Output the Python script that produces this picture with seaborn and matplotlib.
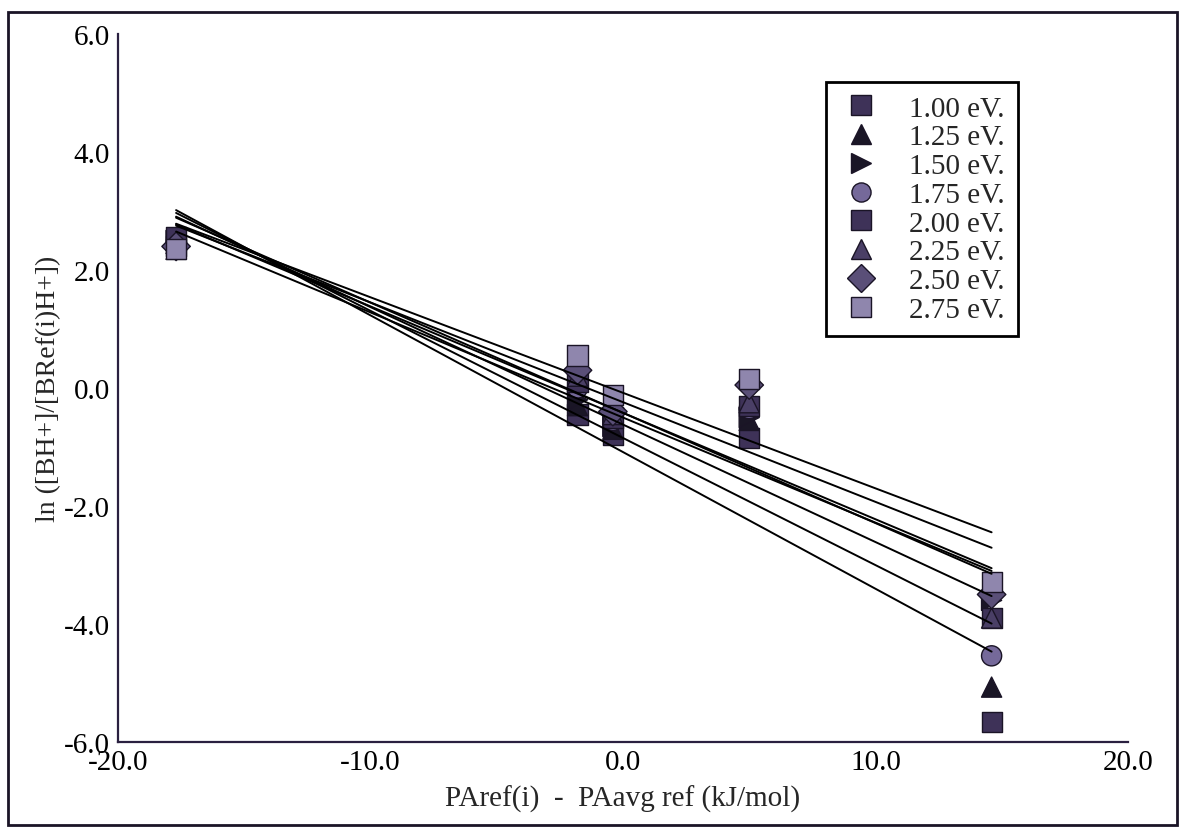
import numpy as np
import pandas as pd
import seaborn as sns
import matplotlib.pyplot as plt
from matplotlib.patches import Rectangle
from matplotlib.ticker import MultipleLocator, FormatStrFormatter

# proton affinity difference of the reference bases (kJ/mol)
pa_diff = [-17.7, -1.8, -0.4, 5.0, 14.6]

energies = ['1.00 eV.', '1.25 eV.', '1.50 eV.', '1.75 eV.',
            '2.00 eV.', '2.25 eV.', '2.50 eV.', '2.75 eV.']

# ln ratio for each collision energy, one value per reference base
ln_100 = [2.40, -0.45, -0.80, -0.85, -5.66]
ln_125 = [2.45, -0.30, -0.70, -0.55, -5.07]
ln_150 = [2.50, -0.20, -0.65, -0.50, -3.60]
ln_175 = [2.40, 0.00, -0.55, -0.35, -4.54]
ln_200 = [2.55, 0.10, -0.50, -0.30, -3.90]
ln_225 = [2.35, 0.20, -0.45, -0.25, -3.90]
ln_250 = [2.40, 0.30, -0.40, 0.05, -3.50]
ln_275 = [2.35, 0.55, -0.12, 0.15, -3.29]

series = [ln_100, ln_125, ln_150, ln_175, ln_200, ln_225, ln_250, ln_275]

df = pd.DataFrame({
    'x': pa_diff * len(energies),
    'y': np.concatenate(series),
    'energy': np.repeat(energies, len(pa_diff)),
})

markers = dict(zip(energies, ['s', '^', '>', 'o', 's', '^', 'D', 's']))
palette = dict(zip(energies, ['#3e3258', '#1a1626', '#1a1626', '#75699a',
                              '#3e3258', '#4a3f66', '#5a4f78', '#8f86ad']))

sns.set_style('white')
plt.rcParams['font.family'] = ['Liberation Serif', 'DejaVu Serif']
plt.rcParams['axes.unicode_minus'] = False

fig = plt.figure(figsize=(11.79, 8.28), dpi=100)
ax = fig.add_axes([0.1001, 0.1027, 0.8566, 0.855])

sns.scatterplot(data=df, x='x', y='y', hue='energy', style='energy',
                markers=markers, palette=palette, s=210,
                edgecolor='#1a1426', linewidth=1, ax=ax)

# least-squares line for each energy
for e in energies:
    sns.regplot(data=df[df['energy'] == e], x='x', y='y', scatter=False,
                ci=None, color='black', line_kws={'lw': 1.4}, ax=ax)

ax.set_xlim(-20, 20)
ax.set_ylim(-6, 6)
ax.xaxis.set_major_locator(MultipleLocator(10))
ax.xaxis.set_minor_locator(MultipleLocator(5))
ax.yaxis.set_major_locator(MultipleLocator(2))
ax.yaxis.set_minor_locator(MultipleLocator(1))
ax.xaxis.set_major_formatter(FormatStrFormatter('%.1f'))
ax.yaxis.set_major_formatter(FormatStrFormatter('%.1f'))

spine_col = '#2a2040'
for side in ['top', 'right']:
    ax.spines[side].set_visible(False)
for side in ['left', 'bottom']:
    ax.spines[side].set_color(spine_col)
    ax.spines[side].set_linewidth(1.6)

ax.tick_params(which='both', direction='in', color=spine_col, width=1.4,
               labelsize=21, labelcolor='black')
ax.tick_params(which='major', length=14)
ax.tick_params(which='minor', length=8)
ax.tick_params(axis='x', pad=5)
ax.tick_params(axis='y', pad=6)

ax.set_xlabel('PAref(i)  -  PAavg ref (kJ/mol)', fontsize=21, labelpad=7)
ax.set_ylabel('ln ([BH+]/[BRef(i)H+])', fontsize=20, labelpad=2)

handles, labels = ax.get_legend_handles_labels()
leg = ax.legend(handles, labels, loc='upper right', bbox_to_anchor=(0.891, 0.932),
                borderaxespad=0, fontsize=21, frameon=True, fancybox=False,
                edgecolor='black', framealpha=1, handlelength=1.5,
                handletextpad=0.9, labelspacing=0.08, borderpad=0.45,
                markerscale=0.95)
leg.get_frame().set_linewidth(2)

# frame around the whole figure
fig.add_artist(Rectangle((0.0068, 0.0024), 0.9915, 0.982, transform=fig.transFigure,
                         fill=False, edgecolor='#1a1426', lw=2))

fig.savefig('out.png', dpi=100)
